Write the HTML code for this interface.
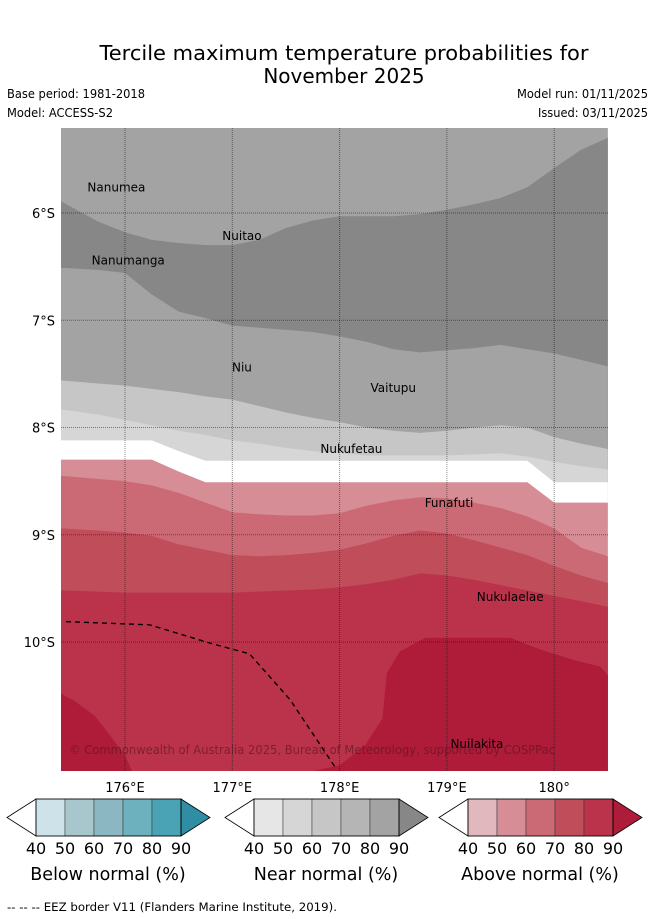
<!DOCTYPE html>
<html><head><meta charset="utf-8">
<style>
html,body{margin:0;padding:0;background:#fff;}
svg{display:block;font-family:"DejaVu Sans","Liberation Sans",sans-serif;}
</style></head>
<body>
<svg id="chart" width="655" height="919" viewBox="0 0 655 919" xmlns="http://www.w3.org/2000/svg">
  <text x="344" y="60" font-size="20" text-anchor="middle" textLength="489" lengthAdjust="spacingAndGlyphs">Tercile maximum temperature probabilities for</text>
  <text x="344" y="83" font-size="20" text-anchor="middle">November 2025</text>
  <text x="7" y="98" font-size="12" textLength="138" lengthAdjust="spacingAndGlyphs">Base period: 1981-2018</text>
  <text x="7" y="117" font-size="12" textLength="106" lengthAdjust="spacingAndGlyphs">Model: ACCESS-S2</text>
  <text x="648" y="98" font-size="12" text-anchor="end" textLength="131" lengthAdjust="spacingAndGlyphs">Model run: 01/11/2025</text>
  <text x="648" y="117" font-size="12" text-anchor="end" textLength="110" lengthAdjust="spacingAndGlyphs">Issued: 03/11/2025</text>
  <defs><clipPath id="mapclip"><rect x="61" y="128" width="547" height="643"/></clipPath></defs>
  <g id="map" clip-path="url(#mapclip)"></g>
  <g id="overlay"></g>
  <g id="bars"></g>
  <text x="7" y="911" font-size="11.5" textLength="330" lengthAdjust="spacingAndGlyphs">--  --  -- EEZ border V11 (Flanders Marine Institute, 2019).</text>
</svg>
<script>
// ---- data ----
const lons = [175.4,175.75,176,176.25,176.5,176.75,177,177.25,177.5,177.75,178,178.25,178.5,178.75,179,179.25,179.5,179.75,180,180.25,180.5];
const nearDarkTop   = [5.89,6.08,6.18,6.25,6.28,6.30,6.30,6.25,6.14,6.07,6.03,6.03,6.03,6.01,5.97,5.92,5.86,5.76,5.58,5.41,5.30];
const nearDarkBot   = [6.51,6.53,6.56,6.76,6.92,6.98,7.05,7.07,7.09,7.11,7.15,7.20,7.27,7.30,7.28,7.26,7.23,7.27,7.31,7.37,7.43];
const near70Top     = [7.56,7.59,7.61,7.64,7.67,7.71,7.74,7.80,7.86,7.91,7.95,8.00,8.03,8.05,8.03,8.00,7.98,8.00,8.09,8.15,8.20];
const near60Top     = [7.83,7.88,7.93,7.98,8.03,8.07,8.12,8.15,8.19,8.22,8.24,8.26,8.26,8.26,8.26,8.25,8.24,8.27,8.32,8.36,8.39];
const whiteTop      = [8.12,8.12,8.12,8.12,8.22,8.31,8.31,8.31,8.31,8.31,8.31,8.31,8.31,8.31,8.31,8.31,8.31,8.31,8.51,8.51,8.51];
const above50Top    = [8.30,8.30,8.30,8.30,8.41,8.51,8.51,8.51,8.51,8.51,8.51,8.51,8.51,8.51,8.51,8.51,8.51,8.51,8.70,8.70,8.70];
const above60Top    = [8.45,8.48,8.50,8.54,8.61,8.70,8.79,8.81,8.82,8.82,8.80,8.73,8.68,8.65,8.66,8.70,8.75,8.83,8.94,9.12,9.20];
const above70Top    = [8.94,8.96,8.98,9.01,9.09,9.14,9.19,9.20,9.19,9.17,9.14,9.08,9.01,8.96,8.99,9.05,9.12,9.19,9.29,9.38,9.45];
const above80Top    = [9.52,9.53,9.54,9.54,9.54,9.54,9.54,9.53,9.52,9.51,9.49,9.46,9.42,9.36,9.38,9.42,9.47,9.52,9.57,9.62,9.67];
const above90West   = [[175.40,10.48],[175.53,10.55],[175.72,10.69],[175.86,10.87],[176.0,11.06],[176.07,11.21],[175.40,11.21]];
const above90East   = [[177.72,11.21],[178.0,11.15],[178.24,10.96],[178.40,10.71],[178.44,10.29],[178.56,10.09],[178.80,9.96],[179.59,9.96],[179.87,10.07],[180.19,10.17],[180.43,10.23],[180.5,10.31],[180.5,11.21]];
const eezBorder     = [[175.45,9.81],[176.23,9.84],[176.79,10.01],[177.16,10.11],[177.54,10.54],[177.96,11.17]];
const lonTicks = [176,177,178,179,180];
const lonTickLabels = ["176°E","177°E","178°E","179°E","180°"];
const latTicks = [6,7,8,9,10];
const latTickLabels = ["6°S","7°S","8°S","9°S","10°S"];
const islandNames = ["Nanumea","Nuitao","Nanumanga","Niu","Vaitupu","Nukufetau","Funafuti","Nukulaelae","Nuilakita"];
const islandLon = [175.92,177.09,176.03,177.09,178.50,178.11,179.02,179.59,179.28];
const islandLat = [5.80,6.25,6.48,7.48,7.67,8.24,8.74,9.62,10.99];
const cbTicks = ["40","50","60","70","80","90"];
const cbTitles = ["Below normal (%)","Near normal (%)","Above normal (%)"];
const cbColors = [
  ["#cde3e9","#a8c7cd","#8bb7c3","#6db0be","#4aa3b5","#2f8ea3"],
  ["#e6e6e6","#d6d6d6","#c6c6c6","#b5b5b5","#a3a3a3","#878787"],
  ["#e0b8be","#d68d95","#cb6a75","#c04d5a","#bb334a","#ad1d3a"]
];
// ---- axes ----
const X = lon => 125 + 107.3*(lon-176);
const Y = lat => 213 + 107.25*(lat-6);
const NS = "http://www.w3.org/2000/svg";
function mk(tag, attrs, parent){const e=document.createElementNS(NS,tag);for(const k in attrs)e.setAttribute(k,attrs[k]);parent.appendChild(e);return e;}
const map = document.getElementById('map');
const overlay = document.getElementById('overlay');
const bars = document.getElementById('bars');
const BOT = 11.3, TOP = 5.1;
function bandFrom(top, color, name){
  let d = "M"+X(lons[0])+","+Y(top[0]);
  for(let i=1;i<lons.length;i++) d+=" L"+X(lons[i])+","+Y(top[i]);
  d+=" L"+X(lons[lons.length-1])+","+Y(BOT)+" L"+X(lons[0])+","+Y(BOT)+" Z";
  const p = mk('path',{d:d,fill:color},map);
  
  
}
function poly(pts, color, name){
  const p = mk('polygon',{points:pts.map(q=>X(q[0])+","+Y(q[1])).join(" "),fill:color},map);
  
  
}
const bg = mk('rect',{x:X(175.4),y:Y(TOP),width:X(180.5)-X(175.4),height:Y(BOT)-Y(TOP),fill:"#a3a3a3"},map);


bandFrom(nearDarkTop,"#878787","near-normal-90-band");
bandFrom(nearDarkBot,"#a3a3a3","near-normal-80-band-south");
bandFrom(near70Top,"#c6c6c6","near-normal-60-band");
bandFrom(near60Top,"#d6d6d6","near-normal-50-band");
bandFrom(whiteTop,"#ffffff","no-dominant-band");
bandFrom(above50Top,"#d68d95","above-normal-50-band");
bandFrom(above60Top,"#cb6a75","above-normal-60-band");
bandFrom(above70Top,"#c04d5a","above-normal-70-band");
bandFrom(above80Top,"#bb334a","above-normal-80-band");
poly(above90West,"#ae1c3a","above-normal-90-west");
poly(above90East,"#ae1c3a","above-normal-90-east");
// gridlines
lonTicks.forEach((lon,i)=>{
  const l = mk('line',{x1:X(lon),x2:X(lon),y1:128,y2:771,stroke:"rgba(0,0,0,0.45)","stroke-width":1,"stroke-dasharray":"1,1"},map);
  
  
  const t = mk('text',{x:X(lon),y:792,"font-size":13,"text-anchor":"middle"},overlay);
  t.textContent = lonTickLabels[i];
  
  
});
latTicks.forEach((lat,i)=>{
  const l = mk('line',{x1:61,x2:608,y1:Y(lat),y2:Y(lat),stroke:"rgba(0,0,0,0.45)","stroke-width":1,"stroke-dasharray":"1,1"},map);
  
  
  const t = mk('text',{x:55,y:Y(lat)+5,"font-size":13,"text-anchor":"end"},overlay);
  t.textContent = latTickLabels[i];
  
  
});
// EEZ border
const eez = mk('polyline',{points:eezBorder.map(q=>X(q[0])+","+Y(q[1])).join(" "),fill:"none",stroke:"#000","stroke-width":1.4,"stroke-dasharray":"5,4"},map);


// islands
islandNames.forEach((n,i)=>{
  const t = mk('text',{x:X(islandLon[i]),y:Y(islandLat[i]),"font-size":12,"text-anchor":"middle"},map);
  t.textContent = n;
  
  
});
const cr = mk('text',{x:69,y:754,"font-size":12,fill:"rgba(80,20,30,0.6)",textLength:486,lengthAdjust:"spacingAndGlyphs"},map);
cr.textContent = "© Commonwealth of Australia 2025, Bureau of Meteorology, supported by COSPPac";


// colorbars
const cbLeft = [7,225,439];
cbLeft.forEach((x0,k)=>{
  const g = mk('g',{},bars);
  
  
  const y0=799,y1=836,ym=817.5,w=29;
  const bx = x0+29;
  mk('polygon',{points:`${x0},${ym} ${bx},${y0} ${bx},${y1}`,fill:"#fff",stroke:"#000","stroke-width":0.8},g);
  for(let i=0;i<5;i++) mk('rect',{x:bx+i*w,y:y0,width:w,height:y1-y0,fill:cbColors[k][i],stroke:"#333","stroke-width":0.5},g);
  const ex = bx+5*w;
  mk('polygon',{points:`${ex},${y0} ${ex+29},${ym} ${ex},${y1}`,fill:cbColors[k][5],stroke:"#000","stroke-width":0.8},g);
  mk('rect',{x:bx,y:y0,width:5*w,height:y1-y0,fill:"none",stroke:"#000","stroke-width":0.8},g);
  cbTicks.forEach((tk,i)=>{
    const t = mk('text',{x:bx+i*w,y:854,"font-size":16,"text-anchor":"middle"},g);
    t.textContent = tk;
  });
  const tt = mk('text',{x:bx+72,y:880,"font-size":17.5,"text-anchor":"middle"},g);
  tt.textContent = cbTitles[k];
});
</script>
</body></html>
